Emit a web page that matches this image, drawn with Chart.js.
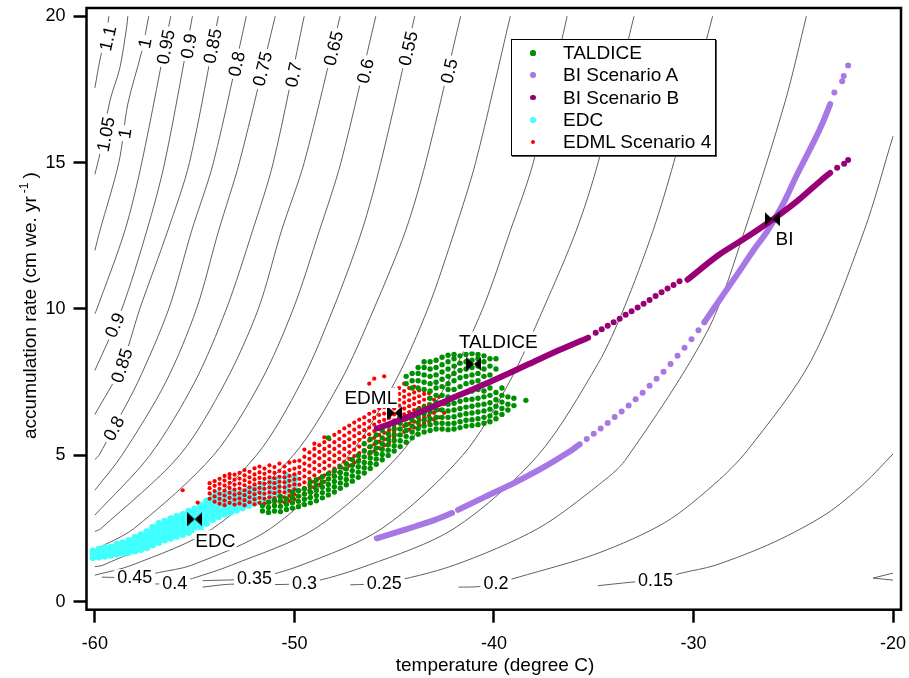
<!DOCTYPE html>
<html>
<head>
<meta charset="utf-8">
<title>Accumulation rate vs temperature</title>
<script src="https://cdn.jsdelivr.net/npm/chart.js@4.4.0/dist/chart.umd.min.js"></script>
<style>
  html, body { margin: 0; padding: 0; background: #fff; }
  #wrap { position: relative; width: 909px; height: 678px; }
  #legend {
    position: absolute; left: 511px; top: 39px; width: 203px; height: 115px;
    border: 1px solid #000; box-shadow: 1px 1px 0 #555; background: #fff;
    font: 19px "Liberation Sans", Arial, sans-serif; color: #000;
  }
  #legend .row { position: absolute; left: 0; height: 22px; line-height: 22px; white-space: nowrap; }
  #legend .dot { position: absolute; border-radius: 50%; }
  #legend .txt { position: absolute; left: 51px; top: 0; }
</style>
</head>
<body>
<div id="wrap">
  <canvas id="chart" width="909" height="678"></canvas>
  <div id="legend"></div>
</div>
<script>
const FONT = '"Liberation Sans", Arial, Helvetica, sans-serif';

// axis ticks
const xTicks = [-60, -50, -40, -30, -20];
const yTicks = [0, 5, 10, 15, 20];

// legend series
const seriesNames = ['TALDICE', 'BI Scenario A', 'BI Scenario B', 'EDC', 'EDML Scenario 4'];

// ---- contour lines (temperature, accumulation) ----
const contourLevels = ['1.1', '1.05', '1', '0.95', '0.9', '0.85', '0.8', '0.75', '0.7', '0.65',
  '0.6', '0.55', '0.5', '0.45', '0.4', '0.35', '0.3', '0.25', '0.2', '0.15', '0.1'];
const iso110 = [[-60, 17.55], [-59.75, 18.5], [-59.38, 19.6], [-59.3, 20]];
const iso105 = [[-60, 14.6], [-59.75, 15.3], [-59.25, 17.1], [-58.75, 18.23], [-58.4, 19.66], [-58.35, 20]];
const iso100 = [[-60, 12.0], [-59.75, 12.67], [-58.8, 15.0], [-58.35, 17.0], [-57.65, 18.8], [-57.3, 20]];
const iso095 = [[-60, 9.84], [-59.9, 10], [-58.5, 12.67], [-57.65, 15], [-56.2, 20]];
const iso090 = [[-60, 7.9], [-58.65, 10], [-57.4, 12.67], [-56.5, 15], [-55.11, 20]];
const iso085 = [[-60, 6.4], [-58.7, 8.0], [-57.75, 10], [-56.35, 12.67], [-55.26, 15], [-53.81, 20]];
const iso080 = [[-60, 4.86], [-59.8, 5.0], [-59.05, 5.95], [-57.85, 7.5], [-56.3, 10], [-55.15, 12.67], [-54.06, 15], [-52.41, 20]];
const iso075 = [[-60, 3.81], [-58.65, 5], [-56.45, 7.5], [-54.91, 10], [-53.8, 12.67], [-52.76, 15], [-50.96, 20]];
const iso070 = [[-60, 2.96], [-57.25, 5], [-55.0, 7.5], [-53.41, 10], [-52.1, 12.67], [-51.06, 15], [-49.51, 20]];
const iso065 = [[-60, 2.4], [-59.7, 2.5], [-55.76, 5], [-53.46, 7.5], [-51.81, 10], [-50.65, 12.67], [-49.51, 15], [-47.71, 20]];
const iso060 = [[-60, 1.78], [-58.05, 2.5], [-54.06, 5], [-51.7, 7.5], [-50.06, 10], [-48.75, 12.67], [-47.67, 15], [-45.92, 20]];
const iso055 = [[-60, 1.2], [-59.6, 1.25], [-55.76, 2.5], [-51.91, 5], [-49.66, 7.5], [-48.06, 10], [-46.62, 12.67], [-45.67, 15], [-43.97, 20]];
const iso050 = [[-60, 0.91], [-58.15, 1.25], [-54.1, 2.5], [-50.06, 5], [-47.71, 7.5], [-46.02, 10], [-44.43, 12.67], [-43.42, 15], [-41.67, 20]];
const iso045 = [[-59.65, 0.84], [-58.0, 0.84], [-56.8, 1.0], [-55.15, 1.25], [-51.2, 2.5], [-47.27, 5], [-44.97, 7.5], [-43.32, 10], [-41.97, 12.67], [-40.92, 15], [-39.18, 20]];
const iso040 = [[-57.5, 0.6], [-56.0, 0.64], [-55.1, 0.8], [-53.16, 1.25], [-48.96, 2.5], [-44.77, 5], [-42.32, 7.5], [-40.57, 10], [-39.18, 12.67], [-38.03, 15], [-36.33, 20]];
const iso035 = [[-54.6, 0.72], [-52.0, 0.81], [-49.66, 1.25], [-45.62, 2.5], [-41.57, 5], [-39.23, 7.5], [-37.53, 10], [-35.88, 12.67], [-34.78, 15], [-32.98, 20]];
const iso030 = [[-54.6, 0.5], [-53.25, 0.6], [-49.5, 0.64], [-46.3, 1.25], [-42.0, 2.5], [-37.8, 5], [-34.78, 8.14], [-33.5, 10], [-32.03, 12.67], [-30.99, 15], [-29.04, 20]];
const iso025 = [[-47.2, 0.58], [-45.5, 0.64], [-42.0, 1.25], [-37.8, 2.5], [-34.78, 3.98], [-33.43, 4.83], [-29.29, 9.26], [-27.44, 12.67], [-25.4, 17.1], [-24.34, 20]];
const iso020 = [[-41.77, 0.5], [-40.77, 0.52], [-39.9, 0.64], [-38.78, 0.84], [-34.78, 1.66], [-31.4, 2.72], [-28.9, 4.05], [-27.3, 5.17], [-24.1, 8.24], [-21.45, 12.67], [-20, 15.9]];
const iso015 = [[-34.8, 0.55], [-33.1, 0.67], [-31.9, 0.74], [-30.6, 0.98], [-28.9, 1.25], [-25.95, 2.04], [-23.3, 3.02], [-21.45, 4.04], [-20, 5.05]];
const iso010 = [[-20, 0.98], [-21.0, 0.81], [-20, 0.74]];
const contourData = [iso110, iso105, iso100, iso095, iso090, iso085, iso080, iso075, iso070, iso065,
  iso060, iso055, iso050, iso045, iso040, iso035, iso030, iso025, iso020, iso015, iso010];

// where the contour values are written (flat: written level, not along the line)
const contourLabels = [
  { v: '1.1', t: -59.35, a: 19.24 }, { v: '1', t: -57.5, a: 19.08 }, { v: '0.95', t: -56.45, a: 18.95 },
  { v: '0.9', t: -55.3, a: 18.98 }, { v: '0.85', t: -54.1, a: 18.98 }, { v: '0.8', t: -52.9, a: 18.37 },
  { v: '0.75', t: -51.6, a: 18.2 }, { v: '0.7', t: -50.05, a: 18.0 }, { v: '0.65', t: -48.05, a: 18.9 },
  { v: '0.6', t: -46.45, a: 18.13 }, { v: '0.55', t: -44.3, a: 18.9 }, { v: '0.5', t: -42.25, a: 18.13 },
  { v: '1.05', t: -59.45, a: 15.97 }, { v: '1', t: -58.5, a: 16.0 },
  { v: '0.9', t: -59.0, a: 9.45 }, { v: '0.85', t: -58.65, a: 8.07 }, { v: '0.8', t: -59.05, a: 5.92 },
  { v: '0.45', t: -58.0, a: 0.84, flat: true }, { v: '0.4', t: -56.0, a: 0.64, flat: true },
  { v: '0.35', t: -52.0, a: 0.81, flat: true }, { v: '0.3', t: -49.5, a: 0.64, flat: true },
  { v: '0.25', t: -45.5, a: 0.64, flat: true }, { v: '0.2', t: -39.9, a: 0.64, flat: true },
  { v: '0.15', t: -31.9, a: 0.74, flat: true }
];

// ---- EDC: temperature column -> accumulation values ----
const edcCols = [
  [-60.1, [1.5, 1.62, 1.74]], [-59.8, [1.52, 1.66, 1.8]], [-59.5, [1.55, 1.7, 1.85]],
  [-59.2, [1.58, 1.73, 1.88]], [-58.9, [1.62, 1.75, 1.88, 1.97]], [-58.6, [1.65, 1.78, 1.91, 2.02]],
  [-58.3, [1.68, 1.82, 1.96, 2.1]], [-58.0, [1.73, 1.87, 2.01, 2.15, 2.2]], [-57.7, [1.78, 1.92, 2.06, 2.2, 2.3]],
  [-57.4, [1.84, 1.98, 2.12, 2.26, 2.4]], [-57.1, [1.93, 2.07, 2.21, 2.35, 2.5, 2.55]],
  [-56.8, [2.02, 2.16, 2.3, 2.44, 2.58, 2.68]], [-56.5, [2.1, 2.24, 2.38, 2.52, 2.66, 2.76]],
  [-56.2, [2.16, 2.3, 2.44, 2.58, 2.72, 2.84]], [-55.9, [2.23, 2.37, 2.51, 2.65, 2.79, 2.92]],
  [-55.6, [2.29, 2.43, 2.57, 2.71, 2.85, 2.99]], [-55.3, [2.36, 2.5, 2.64, 2.78, 2.92, 3.06, 3.1]],
  [-55.0, [2.44, 2.58, 2.72, 2.86, 3.0, 3.14, 3.18]], [-54.7, [2.55, 2.69, 2.83, 2.97, 3.11, 3.25, 3.3]],
  [-54.4, [2.67, 2.81, 2.95, 3.09, 3.23, 3.37, 3.45]], [-54.1, [2.8, 2.94, 3.08, 3.22, 3.36, 3.5, 3.6]],
  [-53.8, [2.9, 3.04, 3.18, 3.32, 3.46, 3.6, 3.7]], [-53.5, [2.98, 3.12, 3.26, 3.4, 3.54, 3.68]],
  [-53.2, [3.05, 3.19, 3.33, 3.47, 3.61, 3.75]], [-52.9, [3.12, 3.26, 3.4, 3.54, 3.68]],
  [-52.6, [3.2, 3.34, 3.48, 3.62, 3.76]], [-52.3, [3.28, 3.42, 3.56, 3.7, 3.84]],
  [-52.0, [3.36, 3.5, 3.64, 3.78, 3.92]], [-51.6, [3.46, 3.6, 3.74, 3.88, 4.02]],
  [-51.2, [3.56, 3.7, 3.84, 3.98, 4.12]], [-50.8, [3.66, 3.8, 3.94, 4.08, 4.22]],
  [-50.4, [3.76, 3.9, 4.04, 4.18, 4.32]], [-50.0, [3.86, 4.0, 4.14, 4.28]]
];

// ---- EDML Scenario 4 ----
const edmlCols = [
  [-55.6, [3.81]], [-54.85, [3.39]],
  [-54.25, [3.52, 3.7, 3.88, 4.05]], [-54.0, [3.42, 3.6, 3.78, 3.96, 4.12]],
  [-53.75, [3.35, 3.52, 3.69, 3.86, 4.03, 4.2]], [-53.5, [3.3, 3.46, 3.63, 3.8, 3.97, 4.14, 4.3]],
  [-53.25, [3.38, 3.55, 3.72, 3.89, 4.06, 4.23, 4.36]], [-53.0, [3.32, 3.49, 3.66, 3.83, 4.0, 4.17, 4.34]],
  [-52.75, [3.36, 3.53, 3.7, 3.87, 4.04, 4.21, 4.4]], [-52.5, [3.3, 3.47, 3.64, 3.81, 3.98, 4.15, 4.32, 4.5]],
  [-52.25, [3.4, 3.57, 3.74, 3.91, 4.08, 4.25, 4.44]], [-52.0, [3.33, 3.5, 3.67, 3.84, 4.01, 4.18, 4.35, 4.56]],
  [-51.75, [3.38, 3.55, 3.72, 3.89, 4.06, 4.23, 4.42, 4.62]], [-51.5, [3.35, 3.52, 3.69, 3.86, 4.03, 4.2, 4.37, 4.55]],
  [-51.25, [3.4, 3.57, 3.74, 3.91, 4.08, 4.25, 4.45, 4.66]], [-51.0, [3.37, 3.54, 3.71, 3.88, 4.05, 4.22, 4.4, 4.6]],
  [-50.75, [3.42, 3.59, 3.76, 3.93, 4.1, 4.27, 4.47, 4.72]], [-50.5, [3.4, 3.57, 3.74, 3.91, 4.08, 4.25, 4.42, 4.62]],
  [-50.25, [3.45, 3.62, 3.79, 3.96, 4.13, 4.3, 4.5, 4.75]], [-50.0, [3.5, 3.67, 3.84, 4.01, 4.18, 4.35, 4.55, 4.8]],
  [-49.75, [3.6, 3.8, 4.0, 4.2, 4.4, 4.6, 4.82]], [-49.5, [3.7, 3.88, 4.08, 4.28, 4.5, 4.72, 4.95, 5.2]],
  [-49.25, [3.8, 4.0, 4.2, 4.42, 4.65, 4.88, 5.1]], [-49.0, [3.9, 4.1, 4.32, 4.54, 4.77, 5.0, 5.22, 5.4]],
  [-48.75, [4.0, 4.22, 4.45, 4.67, 4.9, 5.12, 5.35]], [-48.5, [4.1, 4.32, 4.55, 4.77, 5.0, 5.22, 5.45, 5.62]],
  [-48.25, [4.2, 4.42, 4.65, 4.87, 5.1, 5.32, 5.55]], [-48.0, [4.32, 4.55, 4.78, 5.0, 5.22, 5.45, 5.7]],
  [-47.75, [4.42, 4.65, 4.88, 5.1, 5.33, 5.56, 5.8]], [-47.5, [4.55, 4.78, 5.0, 5.22, 5.45, 5.68, 5.92]],
  [-47.25, [4.65, 4.88, 5.1, 5.32, 5.55, 5.78, 6.02]], [-47.0, [4.75, 4.98, 5.2, 5.43, 5.66, 5.88, 6.12]],
  [-46.75, [4.85, 5.08, 5.3, 5.53, 5.76, 5.98, 6.22]], [-46.5, [4.95, 5.18, 5.4, 5.63, 5.86, 6.08, 6.3]],
  [-46.25, [5.05, 5.28, 5.5, 5.72, 5.95, 6.18, 6.42, 7.45]], [-46.0, [5.15, 5.38, 5.6, 5.83, 6.05, 6.28, 6.5, 7.62]],
  [-45.75, [5.25, 5.47, 5.7, 5.92, 6.15, 6.38, 6.6]], [-45.5, [5.35, 5.55, 5.77, 5.99, 6.21, 6.43, 6.65, 6.88, 7.7]],
  [-45.25, [5.45, 5.65, 5.86, 6.07, 6.28, 6.49, 6.7, 6.92, 7.15]], [-45.0, [5.6, 5.8, 6.0, 6.2, 6.4, 6.6, 6.8, 7.0, 7.25]],
  [-44.75, [5.7, 5.9, 6.1, 6.3, 6.5, 6.7, 6.9, 7.1, 7.3]], [-44.5, [5.8, 6.0, 6.2, 6.4, 6.6, 6.8, 7.0, 7.2, 7.45]],
  [-44.25, [5.88, 6.08, 6.28, 6.48, 6.68, 6.88, 7.08, 7.3]], [-44.0, [5.95, 6.15, 6.35, 6.55, 6.75, 6.95, 7.15, 7.35]],
  [-43.75, [6.02, 6.22, 6.42, 6.62, 6.82, 7.02, 7.22]], [-43.5, [6.1, 6.3, 6.5, 6.7, 6.9, 7.1]],
  [-43.25, [6.15, 6.35, 6.55, 6.75, 6.95, 7.12]], [-43.0, [6.22, 6.45, 6.68, 6.9]],
  [-42.75, [6.3, 6.55, 6.8, 7.0]], [-42.5, [6.45, 6.75]]
];

// ---- TALDICE ----
const taldiceCols = [
  [-51.6, [3.1, 3.28]], [-51.3, [3.05, 3.22, 3.4]], [-51.0, [3.1, 3.28, 3.46]], [-50.7, [3.08, 3.26, 3.44, 3.6]],
  [-50.4, [3.15, 3.33, 3.51]], [-50.1, [3.2, 3.38, 3.56, 3.74]], [-49.8, [3.25, 3.43, 3.61, 3.79]],
  [-49.5, [3.32, 3.5, 3.68, 3.86]], [-49.2, [3.38, 3.56, 3.74, 3.92, 4.1]], [-48.9, [3.45, 3.63, 3.81, 3.99, 4.17]],
  [-48.6, [3.55, 3.73, 3.91, 4.09, 4.27]], [-48.3, [3.65, 3.83, 4.01, 4.19, 4.37, 5.6]],
  [-48.0, [3.75, 3.93, 4.11, 4.29, 4.47]], [-47.7, [3.88, 4.06, 4.24, 4.42, 4.6]],
  [-47.4, [4.0, 4.18, 4.36, 4.54, 4.72]], [-47.1, [4.12, 4.3, 4.48, 4.66, 4.86]],
  [-46.8, [4.25, 4.43, 4.61, 4.8, 5.0]], [-46.5, [4.4, 4.58, 4.76, 4.95, 5.15, 5.4]],
  [-46.2, [4.55, 4.73, 4.91, 5.1, 5.3, 5.55]], [-45.9, [4.7, 4.88, 5.06, 5.25, 5.45, 5.7]],
  [-45.6, [4.85, 5.03, 5.21, 5.4, 5.6, 5.85]], [-45.3, [5.0, 5.18, 5.36, 5.55, 5.75, 6.0]],
  [-45.0, [5.15, 5.33, 5.51, 5.7, 5.9, 6.1]], [-44.7, [5.3, 5.5, 5.7, 5.9, 6.1, 6.3]],
  [-44.4, [5.45, 5.65, 5.85, 6.05, 6.25, 7.45, 7.7]], [-44.1, [5.6, 5.8, 6.0, 6.2, 6.4, 7.3, 7.55, 7.8]],
  [-43.8, [5.72, 5.92, 6.12, 6.32, 6.55, 7.3, 7.55, 7.8, 8.0]],
  [-43.5, [5.8, 6.0, 6.2, 6.42, 6.65, 7.25, 7.5, 7.75, 8.0, 8.2]],
  [-43.2, [5.85, 6.05, 6.25, 6.48, 6.72, 6.95, 7.2, 7.45, 7.7, 7.95, 8.2]],
  [-42.9, [5.9, 6.1, 6.3, 6.55, 6.8, 7.05, 7.3, 7.5, 7.75, 8.0, 8.25]],
  [-42.6, [5.9, 6.1, 6.3, 6.55, 6.8, 7.05, 7.35, 7.6, 7.85, 8.1, 8.35]],
  [-42.3, [5.88, 6.08, 6.3, 6.52, 6.75, 7.0, 7.25, 7.45, 7.7, 7.95, 8.2, 8.42]],
  [-42.0, [5.9, 6.1, 6.32, 6.55, 6.78, 7.25, 7.55, 7.8, 8.05, 8.3, 8.45]],
  [-41.7, [5.95, 6.15, 6.38, 6.6, 6.85, 7.35, 7.65, 7.9, 8.15, 8.4]],
  [-41.4, [6.0, 6.2, 6.42, 6.65, 6.9, 7.45, 7.7, 7.95, 8.2, 8.45]],
  [-41.1, [6.02, 6.22, 6.45, 6.68, 6.92, 7.2, 7.5, 7.75, 8.0, 8.25, 8.48]],
  [-40.8, [6.05, 6.25, 6.48, 6.72, 6.95, 7.25, 7.55, 7.8, 8.05, 8.3, 8.45]],
  [-40.5, [6.1, 6.3, 6.52, 6.75, 7.0, 7.2, 7.7, 7.95, 8.2, 8.4]],
  [-40.2, [6.15, 6.35, 6.58, 6.8, 7.05, 7.3, 7.75, 8.05, 8.3]],
  [-39.9, [6.25, 6.45, 6.68, 6.9, 7.15, 7.95, 8.3]], [-39.6, [6.4, 6.6, 6.82, 7.05, 7.3]],
  [-39.3, [6.55, 6.75, 7.0]], [-39.0, [6.7, 6.95]], [-38.4, [6.88]]
];

// ---- BI Scenario A: dense runs and loose dots ----
const biARun1 = [[-45.87, 2.17], [-44.9, 2.37], [-43.92, 2.58], [-42.95, 2.8], [-42.1, 3.03]];
const biARun2 = [[-41.8, 3.14], [-40.4, 3.6], [-38.93, 4.08], [-37.5, 4.6], [-36.13, 5.17], [-35.8, 5.33]];
const biARun3 = [[-29.45, 9.55], [-28.5, 10.5], [-27.79, 11.2], [-27.0, 12.0], [-26.29, 12.67], [-25.5, 13.6],
  [-24.79, 14.62], [-23.95, 15.74], [-23.5, 16.4], [-23.15, 17.0]];
const biADots = [[-35.7, 5.38], [-35.35, 5.56], [-35.0, 5.74], [-34.65, 5.92], [-34.3, 6.11], [-33.95, 6.31],
  [-33.6, 6.5], [-33.25, 6.7], [-32.9, 6.92], [-32.55, 7.14], [-32.2, 7.38], [-31.85, 7.62], [-31.5, 7.86],
  [-31.15, 8.12], [-30.8, 8.4], [-30.45, 8.68], [-30.1, 8.97], [-29.75, 9.27], [-29.45, 9.55],
  [-22.94, 17.39], [-22.55, 17.78], [-22.47, 17.96], [-22.25, 18.32]];

// ---- BI Scenario B ----
const biBRun1 = [[-45.87, 5.92], [-44.77, 6.19], [-43.27, 6.6], [-41.77, 7.05], [-40.27, 7.49], [-38.28, 8.11],
  [-36.78, 8.58], [-35.28, 9.02]];
const biBRun2 = [[-30.3, 11.0], [-28.79, 11.82], [-27.5, 12.38], [-26.04, 13.05], [-24.79, 13.69], [-23.6, 14.4], [-23.15, 14.65]];
const biBDots = [[-34.9, 9.19], [-34.6, 9.31], [-34.3, 9.43], [-34.0, 9.55], [-33.7, 9.67], [-33.4, 9.8],
  [-33.1, 9.92], [-32.8, 10.05], [-32.5, 10.18], [-32.2, 10.31], [-31.9, 10.44], [-31.6, 10.57],
  [-31.3, 10.7], [-31.0, 10.82], [-30.7, 10.95], [-22.8, 14.82], [-22.45, 14.96], [-22.25, 15.09]];

// ---- core sites ----
const siteNames = ['EDC', 'EDML', 'TALDICE', 'BI'];
const siteT = [-55.0, -44.97, -41.0, -26.05];
const siteA = [2.82, 6.45, 8.12, 13.07];
const siteLabels = [
  { text: 'EDC', t: -53.96, a: 2.1, box: true },
  { text: 'EDML', t: -46.17, a: 6.96, box: true },
  { text: 'TALDICE', t: -39.78, a: 8.89, box: true },
  { text: 'BI', t: -25.44, a: 12.4, box: false }
];

// ---- styles ----
const colTaldice = '#008f00', colBiA = '#a877e6', colBiB = '#990077', colEdc = '#40ffff', colEdml = '#ff0000';
const legendColors = [colTaldice, colBiA, colBiB, colEdc, colEdml];
const legendRadius = [2.6, 2.8, 2.8, 2.8, 2.0];

function pairs(list) {
  return list.map(p => ({ x: p[0], y: p[1] }));
}
function columns(cols) {
  const out = [];
  cols.forEach(c => c[1].forEach(a => out.push({ x: c[0], y: a })));
  return out;
}

function scatterSet(label, data, color, radius, order) {
  return {
    label, data, order,
    backgroundColor: color, borderColor: color, borderWidth: 0,
    pointRadius: radius, pointHoverRadius: radius, showLine: false
  };
}
function runSet(data, color, width, order) {
  return {
    label: '', data, order, showLine: true, tension: 0.3,
    borderColor: color, borderWidth: width, borderCapStyle: 'round',
    pointRadius: 0, pointHoverRadius: 0, fill: false
  };
}

// bow-tie marker used for the core sites
function bowtie() {
  const c = document.createElement('canvas');
  c.width = 15; c.height = 14;
  const g = c.getContext('2d');
  g.fillStyle = '#000';
  g.beginPath();
  g.moveTo(0, 0); g.lineTo(7.5, 7); g.lineTo(0, 14); g.closePath();
  g.moveTo(15, 0); g.lineTo(7.5, 7); g.lineTo(15, 14); g.closePath();
  g.fill();
  return c;
}

const datasets = [];
contourData.forEach(line => {
  datasets.push({
    label: '', data: pairs(line), order: 20, isContour: true, showLine: true,
    tension: line === iso010 ? 0 : 0.3, borderColor: '#606060', borderWidth: 1,
    pointRadius: 0, pointHoverRadius: 0, fill: false
  });
});
datasets.push(scatterSet('EDC', columns(edcCols), colEdc, 3.3, 10));
datasets.push(scatterSet('EDML Scenario 4', columns(edmlCols), colEdml, 2.1, 9));
datasets.push(scatterSet('TALDICE', columns(taldiceCols), colTaldice, 2.7, 8));
[biARun1, biARun2, biARun3].forEach(r => datasets.push(runSet(pairs(r), colBiA, 6, 7)));
datasets.push(scatterSet('BI Scenario A', pairs(biADots), colBiA, 3, 6));
[biBRun1, biBRun2].forEach(r => datasets.push(runSet(pairs(r), colBiB, 6, 5)));
datasets.push(scatterSet('BI Scenario B', pairs(biBDots), colBiB, 3, 4));
datasets.push({
  label: 'sites', data: siteT.map((t, i) => ({ x: t, y: siteA[i] })), order: 0,
  pointStyle: bowtie(), pointRadius: 7, pointHoverRadius: 7, showLine: false
});

function segDist(px, py, x0, y0, x1, y1) {
  const dx = x1 - x0, dy = y1 - y0;
  let u = ((px - x0) * dx + (py - y0) * dy) / (dx * dx + dy * dy || 1);
  u = Math.max(0, Math.min(1, u));
  return Math.hypot(px - (x0 + u * dx), py - (y0 + u * dy));
}

function drawContourLabels(chart) {
  const ctx = chart.ctx, xs = chart.scales.x, ys = chart.scales.y;
  ctx.save();
  ctx.font = '18px ' + FONT;
  ctx.textAlign = 'center';
  ctx.textBaseline = 'middle';
  contourLabels.forEach(lab => {
    const line = contourData[contourLevels.indexOf(lab.v)];
    const px = xs.getPixelForValue(lab.t), py = ys.getPixelForValue(lab.a);
    // follow the direction of the nearest piece of its contour
    let best = Infinity, ang = 0;
    if (!lab.flat) {
      for (let i = 0; i < line.length - 1; i++) {
        const x0 = xs.getPixelForValue(line[i][0]), y0 = ys.getPixelForValue(line[i][1]);
        const x1 = xs.getPixelForValue(line[i + 1][0]), y1 = ys.getPixelForValue(line[i + 1][1]);
        const d = segDist(px, py, x0, y0, x1, y1);
        if (d < best) { best = d; ang = Math.atan2(y1 - y0, x1 - x0); }
      }
      if (ang > Math.PI / 2) ang -= Math.PI;
      if (ang < -Math.PI / 2) ang += Math.PI;
    }
    const w = ctx.measureText(lab.v).width;
    ctx.save();
    ctx.translate(px, py);
    ctx.rotate(ang);
    ctx.fillStyle = '#fff';
    ctx.fillRect(-w / 2 - 3, -8, w + 6, 16);
    ctx.fillStyle = '#000';
    ctx.fillText(lab.v, 0, 1);
    ctx.restore();
  });
  ctx.restore();
}

const labelPlugin = {
  id: 'labels',
  beforeDatasetsDraw(chart) { chart.$contourLabelsDone = false; },
  beforeDatasetDraw(chart, args) {
    const ds = chart.data.datasets[args.index];
    if (ds.isContour || chart.$contourLabelsDone) return;
    chart.$contourLabelsDone = true;
    drawContourLabels(chart);
  },
  afterDatasetsDraw(chart) {
    const ctx = chart.ctx, xs = chart.scales.x, ys = chart.scales.y;
    ctx.save();
    ctx.font = '19px ' + FONT;
    ctx.textAlign = 'center';
    ctx.textBaseline = 'middle';
    siteLabels.forEach(s => {
      const px = xs.getPixelForValue(s.t), py = ys.getPixelForValue(s.a);
      const w = ctx.measureText(s.text).width;
      if (s.box) {
        ctx.fillStyle = '#fff';
        ctx.fillRect(px - w / 2 - 1, py - 10, w + 2, 20);
      }
      ctx.fillStyle = '#000';
      ctx.fillText(s.text, px, py + 1);
    });
    ctx.restore();
  },
  afterDraw(chart) {
    const ctx = chart.ctx, a = chart.chartArea;
    ctx.save();
    // frame round the plot
    ctx.strokeStyle = '#000';
    ctx.lineWidth = 2.5;
    ctx.strokeRect(a.left, a.top, a.right - a.left, a.bottom - a.top);
    ctx.fillStyle = '#000';
    // x title
    ctx.font = '19px ' + FONT;
    ctx.textAlign = 'center';
    ctx.textBaseline = 'alphabetic';
    ctx.fillText('temperature (degree C)', 495, 671);
    // y title with superscript
    ctx.translate(35.5, 439);
    ctx.rotate(-Math.PI / 2);
    ctx.textAlign = 'left';
    const main = 'accumulation rate (cm we. yr';
    ctx.fillText(main, 0, 0);
    let w = ctx.measureText(main).width + 3;
    ctx.font = '12px ' + FONT;
    ctx.fillText('-1', w, -8);
    w += ctx.measureText('-1').width + 4;
    ctx.font = '19px ' + FONT;
    ctx.fillText(')', w, 0);
    ctx.restore();
  }
};

function axis(min, max, ticks, isX) {
  return {
    type: 'linear', min, max,
    afterBuildTicks: s => { s.ticks = ticks.map(v => ({ value: v })); },
    afterFit: s => {
      // fixed plot box: no extra room for overhanging tick labels
      if (isX) s.height = 68.3; else s.width = 86.5;
      s.paddingLeft = 0; s.paddingRight = 0; s.paddingTop = 0; s.paddingBottom = 0;
    },
    grid: { drawOnChartArea: false, drawTicks: true, tickLength: 13, tickWidth: 2.5, tickColor: '#000', color: '#000' },
    border: { display: false },
    ticks: {
      color: '#000', font: { size: 18, family: FONT }, padding: isX ? 11 : 8,
      maxRotation: 0, autoSkip: false
    }
  };
}

new Chart(document.getElementById('chart'), {
  type: 'scatter',
  data: { datasets },
  options: {
    responsive: false,
    animation: false,
    events: [],
    layout: { padding: { top: 6.7, right: 5, left: 0, bottom: 0 } },
    plugins: { legend: { display: false }, tooltip: { enabled: false } },
    scales: {
      x: axis(-60.42, -19.6, xTicks, true),
      y: axis(-0.27, 20.28, yTicks, false)
    }
  },
  plugins: [labelPlugin]
});

// legend box
const legend = document.getElementById('legend');
seriesNames.forEach((name, i) => {
  const row = document.createElement('div');
  row.className = 'row';
  row.style.top = (2 + i * 22.3) + 'px';
  row.style.width = '100%';
  const dot = document.createElement('div');
  dot.className = 'dot';
  const r = legendRadius[i];
  dot.style.width = dot.style.height = (2 * r) + 'px';
  dot.style.left = (21 - r) + 'px';
  dot.style.top = (11 - r) + 'px';
  dot.style.background = legendColors[i];
  const txt = document.createElement('span');
  txt.className = 'txt';
  txt.textContent = name;
  row.appendChild(dot);
  row.appendChild(txt);
  legend.appendChild(row);
});
</script>
</body>
</html>
